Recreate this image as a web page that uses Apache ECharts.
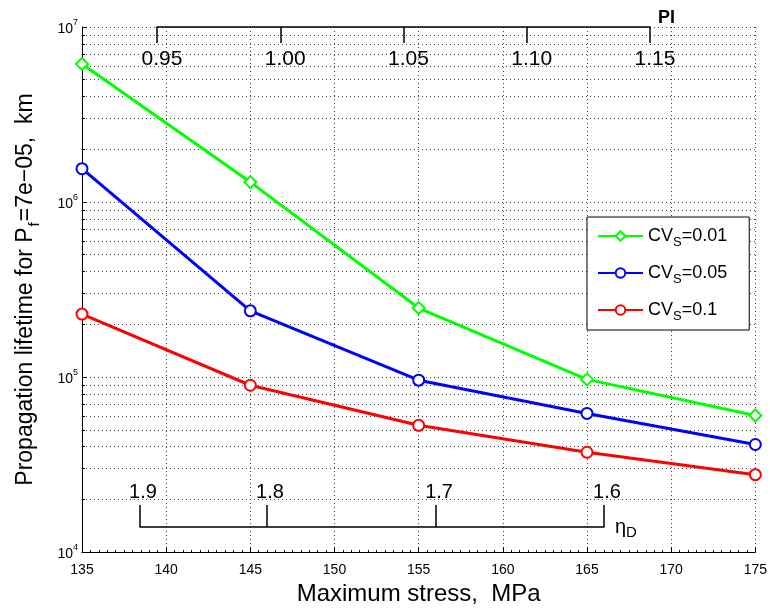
<!DOCTYPE html>
<html>
<head>
<meta charset="utf-8">
<script src="https://cdn.jsdelivr.net/npm/echarts@6/dist/echarts.min.js"></script>
<style>
html,body{margin:0;padding:0;background:#fff;}
#main{width:770px;height:611px;}
</style>
</head>
<body>
<div id="main"></div>
<script>
// data
var stress = [135, 145, 155, 165, 175];
var cv001 = [6.15e6, 1.30e6, 2.48e5, 9.7e4, 6.03e4];
var cv005 = [1.55e6, 2.39e5, 9.6e4, 6.2e4, 4.12e4];
var cv01 = [2.29e5, 8.98e4, 5.3e4, 3.72e4, 2.77e4];
var names = ['CV_S=0.01', 'CV_S=0.05', 'CV_S=0.1'];

// secondary scales
var piTicks = [0.95, 1.00, 1.05, 1.10, 1.15];
var etaStress = [138.44, 145.96, 155.98, 165.93];
var etaLabels = ['1.9', '1.8', '1.7', '1.6'];

// log minor grid (2..9 x 10^k)
var minorVals = [];
for (var k = 4; k < 7; k++) {
    for (var m = 2; m <= 9; m++) {
        minorVals.push(m * Math.pow(10, k));
    }
}

var font = 'Liberation Sans, Arial, Helvetica, sans-serif';
var dotted = {color: '#444', width: 1, type: [1, 3]};

function pairs(ys){
    var out = [];
    for (var i = 0; i < stress.length; i++) {
        out.push([stress[i], ys[i]]);
    }
    return out;
}

function subName(n){
    var p = n.split('_');
    var rest = p[1].substring(1);
    return '{a|' + p[0] + '}{s|' + p[1].charAt(0) + '}{a|' + rest + '}';
}

var myChart = echarts.init(document.getElementById('main'));
var option = {
    animation: false,
    textStyle: {fontFamily: font},
    grid: [
        {left: 82, right: 13, top: 27, bottom: 52},
        {left: 157, right: 120, top: 27, height: 10},
        {left: 140, right: 166, top: 505, height: 22}
    ],
    legend: {
        orient: 'vertical',
        left: 587,
        top: 217,
        padding: [7, 22, 7, 10],
        backgroundColor: '#fff',
        borderColor: '#000',
        borderWidth: 1,
        borderRadius: 0,
        itemWidth: 45,
        itemHeight: 12,
        itemGap: 12,
        data: names,
        formatter: function(n){ return subName(n); },
        textStyle: {
            fontFamily: font,
            color: '#000',
            lineHeight: 24,
            rich: {
                a: {fontSize: 18, fontFamily: font, color: '#000'},
                s: {fontSize: 13, fontFamily: font, color: '#000', verticalAlign: 'top', padding: [12, 0, 0, 0]}
            }
        }
    },
    xAxis: [
        {
            type: 'value',
            gridIndex: 0,
            min: 135,
            max: 175,
            interval: 5,
            name: 'Maximum stress,  MPa',
            nameLocation: 'middle',
            nameGap: 29,
            nameTextStyle: {fontSize: 24, color: '#000', fontFamily: font},
            axisLine: {lineStyle: {color: '#000', width: 1}},
            axisTick: {inside: true, length: 5, lineStyle: {color: '#000'}},
            minorTick: {show: true, splitNumber: 10, length: 2, lineStyle: {color: '#000'}},
            axisLabel: {fontSize: 14, color: '#000', margin: 11},
            splitLine: {show: true, lineStyle: dotted}
        },
        {
            type: 'value',
            gridIndex: 1,
            position: 'top',
            min: 0.95,
            max: 1.15,
            name: 'PI',
            nameLocation: 'end',
            nameGap: 8,
            nameTextStyle: {fontSize: 18, fontWeight: 'bold', color: '#000', verticalAlign: 'bottom', fontFamily: font},
            axisLine: {onZero: false, lineStyle: {color: '#000', width: 1.5}},
            axisTick: {inside: true, length: 16, customValues: piTicks, lineStyle: {color: '#000', width: 1.5}},
            axisLabel: {
                inside: true,
                customValues: piTicks,
                margin: 22,
                fontSize: 21,
                color: '#000',
                padding: [0, 0, 0, 10],
                formatter: function(v){ return v.toFixed(2); }
            },
            splitLine: {show: false}
        },
        {
            type: 'value',
            gridIndex: 2,
            position: 'bottom',
            min: etaStress[0],
            max: etaStress[etaStress.length - 1],
            name: '{n|η}{s|D}',
            nameLocation: 'end',
            nameGap: 11,
            nameTextStyle: {
                color: '#000',
                verticalAlign: 'middle',
                rich: {
                    n: {fontSize: 20, fontFamily: font, color: '#000'},
                    s: {fontSize: 15, fontFamily: font, color: '#000', verticalAlign: 'top', padding: [12, 0, 0, 0]}
                }
            },
            axisLine: {onZero: false, lineStyle: {color: '#000', width: 1.5}},
            axisTick: {inside: true, length: 22, customValues: etaStress, lineStyle: {color: '#000', width: 1.5}},
            axisLabel: {
                inside: true,
                customValues: etaStress,
                margin: 25,
                fontSize: 20,
                color: '#000',
                padding: [0, 0, 0, 6],
                formatter: function(v){
                    var best = 0;
                    for (var i = 0; i < etaStress.length; i++) {
                        if (Math.abs(etaStress[i] - v) < Math.abs(etaStress[best] - v)) best = i;
                    }
                    return etaLabels[best];
                }
            },
            splitLine: {show: false}
        }
    ],
    yAxis: [
        {
            type: 'log',
            gridIndex: 0,
            logBase: 10,
            min: 1e4,
            max: 1e7,
            name: '{n|Propagation lifetime for P}{s|f}{n|=7e\u221205,  km}',
            nameLocation: 'middle',
            nameGap: 40,
            nameTextStyle: {
                color: '#000',
                rich: {
                    n: {fontSize: 23, fontFamily: font, color: '#000'},
                    s: {fontSize: 15, fontFamily: font, color: '#000', verticalAlign: 'top', padding: [17, 1, 0, 1]}
                }
            },
            axisLine: {show: true, lineStyle: {color: '#000', width: 1}},
            axisTick: {show: true, inside: true, length: 5, lineStyle: {color: '#000'}},
            axisLabel: {
                margin: 4,
                color: '#000',
                formatter: function(v){
                    var e = Math.round(Math.log(v) / Math.LN10);
                    return '{b|10}{e|' + e + '}';
                },
                rich: {
                    b: {fontSize: 14, fontFamily: font, color: '#000', verticalAlign: 'bottom'},
                    e: {fontSize: 9, fontFamily: font, color: '#000', verticalAlign: 'bottom', padding: [0, 0, 9, 0]}
                }
            },
            splitLine: {show: true, lineStyle: dotted}
        },
        {
            type: 'log',
            gridIndex: 0,
            logBase: 10,
            min: 1e4,
            max: 1e7,
            position: 'left',
            axisLine: {show: false},
            axisLabel: {show: false},
            axisTick: {show: true, inside: true, length: 3, customValues: minorVals, lineStyle: {color: '#000'}},
            splitLine: {show: true, lineStyle: dotted}
        },
        {type: 'value', gridIndex: 1, show: false},
        {type: 'value', gridIndex: 2, show: false}
    ],
    series: [
        {
            name: names[0],
            type: 'line',
            xAxisIndex: 0,
            yAxisIndex: 0,
            data: pairs(cv001),
            symbol: 'emptyDiamond',
            symbolSize: 12,
            showAllSymbol: true,
            color: '#00ff00',
            lineStyle: {width: 3, color: '#00ff00'},
            itemStyle: {color: '#00ff00', borderWidth: 3}
        },
        {
            name: names[1],
            type: 'line',
            xAxisIndex: 0,
            yAxisIndex: 0,
            data: pairs(cv005),
            symbol: 'emptyCircle',
            symbolSize: 11,
            showAllSymbol: true,
            color: '#0000ff',
            lineStyle: {width: 3, color: '#0000ff'},
            itemStyle: {color: '#0000ff', borderWidth: 2.5}
        },
        {
            name: names[2],
            type: 'line',
            xAxisIndex: 0,
            yAxisIndex: 0,
            data: pairs(cv01),
            symbol: 'emptyCircle',
            symbolSize: 11,
            showAllSymbol: true,
            color: '#ff0000',
            lineStyle: {width: 3, color: '#ff0000'},
            itemStyle: {color: '#ff0000', borderWidth: 2.5}
        }
    ]
};

myChart.setOption(option);
</script>
</body>
</html>
